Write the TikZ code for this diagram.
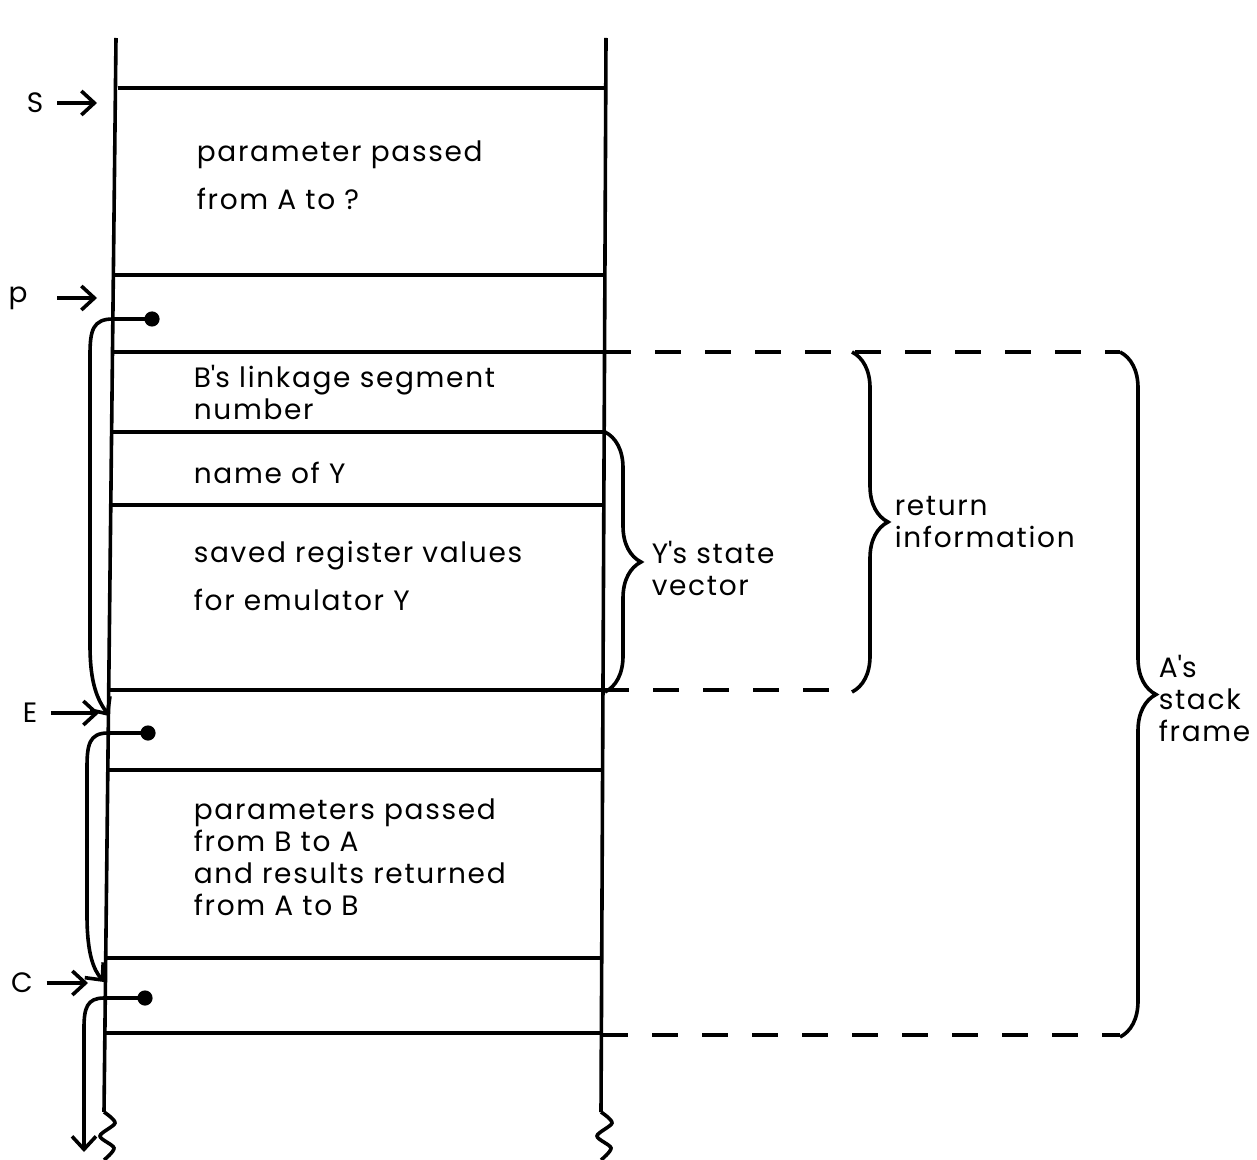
\documentclass[tikz,border=0pt]{standalone}
\usepackage{fontspec}
\setmainfont{Poppins}[LetterSpace=6]
\usetikzlibrary{arrows.meta, decorations.pathreplacing, positioning}

\begin{document}
\begin{tikzpicture}[x=0.5pt, y=-0.5pt, line width=1.8pt,
    txt/.style={anchor=west, inner sep=0pt, align=left, font=\fontsize{14}{16}\selectfont},
    lbl/.style={inner sep=0pt, font=\fontsize{14}{16}\selectfont},
    barb/.style={-{Straight Barb[length=6.5pt, width=12pt, line width=1.8pt]}},
    dsh/.style={dash pattern=on 13pt off 12pt},
    brc/.style={decorate, decoration={brace, amplitude=18pt}}]
    \useasboundingbox (0,0) rectangle (1257,1160);

    % the stack
    \draw (116,38) -- (104,1112);
    \draw (606,38) -- (601,1112);
    \draw plot[smooth] coordinates {(104,1112) (115,1123) (100,1136) (114,1148) (104,1160)};
    \draw plot[smooth] coordinates {(601,1112) (612,1123) (597,1136) (611,1148) (601,1160)};
    \foreach \y/\xl/\xr in {88/118/606, 275/113/605, 352/112/605, 432/112/605, 505/111/604,
        690/109/603, 770/108/603, 958/106/602, 1033/105/602}
        \draw (\xl,\y) -- (\xr,\y);

    % dashed extensions
    \draw[dsh] (605,352) -- (1120,352);
    \draw[dsh] (603,690) -- (852,690);
    \draw[dsh] (602,1035) -- (1120,1035);

    % braces
    \draw[brc] (605,432) -- (605,692);
    \draw[brc] (852,352) -- (852,692);
    \draw[brc] (1120,352) -- (1120,1037);

    % texts
    \node[txt] (par1) at (195,175) {parameter passed\\[8pt]from A to ?};
    \node[txt] (link) at (192,392) {B\textquotesingle s linkage segment\\number};
    \node[txt] (name) at (192,473) {name of Y};
    \node[txt] (save) at (192,576) {saved register values\\[8pt]for emulator Y};
    \node[txt] (par2) at (192,857) {parameters passed\\from B to A\\and results returned\\from A to B};
    \node[txt] (stv) at (650,568) {Y\textquotesingle s state\\vector};
    \node[txt] (ret) at (893,522) {return\\information};
    \node[txt] (frm) at (1157,698) {A\textquotesingle s\\stack\\frame};

    % registers
    \node[lbl] (S) at (35,103) {S};
    \node[lbl] (P) at (18,298) {p};
    \node[lbl] (E) at (30,713) {E};
    \node[lbl] (C) at (22,983) {C};
    \coordinate (sin) at (97,103);
    \coordinate (pin) at (97,298);
    \coordinate (ein) at (99,713);
    \coordinate (cin) at (88,983);
    \draw[barb] ([xshift=6pt]S.east) -- (sin);
    \draw[barb] ([xshift=14pt]P.east) -- (pin);
    \draw[barb] ([xshift=6pt]E.east) -- (ein);
    \draw[barb] ([xshift=6pt]C.east) -- (cin);

    % saved pointers
    \coordinate (pdot) at (152,319);
    \coordinate (edot) at (148,733);
    \coordinate (cdot) at (145,998);
    \coordinate (etip) at (109,716);
    \coordinate (ctip) at (104,982);
    \coordinate (out) at (84,1152);
    \fill (pdot) circle (3.8pt);
    \fill (edot) circle (3.8pt);
    \fill (cdot) circle (3.8pt);
    \draw[barb] (pdot) -- (113,319) .. controls (93,319) and (90,330) .. (90,355)
        -- (90,645) .. controls (90,685) and (98,700) .. (etip);
    \draw[barb] (edot) -- (108,733) .. controls (89,733) and (87,745) .. (87,768)
        -- (87,915) .. controls (87,955) and (94,970) .. (ctip);
    \draw[barb] (cdot) -- (104,998) .. controls (87,998) and (84,1008) .. (84,1028)
        -- (out);
\end{tikzpicture}
\end{document}
